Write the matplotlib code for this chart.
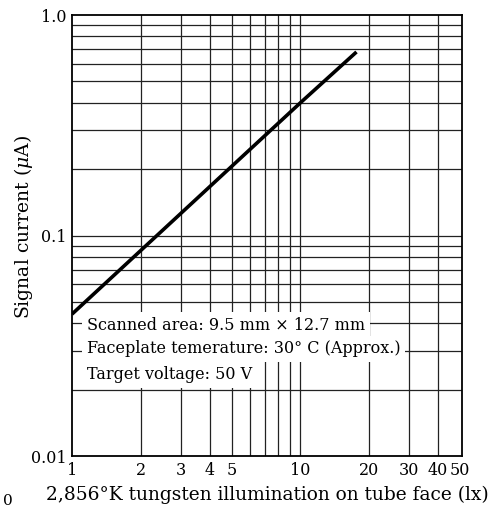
import matplotlib
matplotlib.use("Agg")
import matplotlib.pyplot as plt
from matplotlib.ticker import FixedLocator, NullFormatter, NullLocator

# characteristic curve
illum = [1.0, 10.0, 17.6]
signal = [0.044, 0.40, 0.68]

x_ticks = [1, 2, 3, 4, 5, 10, 20, 30, 40, 50]
x_tick_labels = ["1", "2", "3", "4", "5", "10", "20", "30", "40", "50"]
x_grid = [2, 3, 4, 5, 6, 7, 8, 9, 10, 20, 30, 40]
y_ticks = [0.01, 0.1, 1.0]
y_tick_labels = ["0.01", "0.1", "1.0"]
y_grid = [0.02, 0.03, 0.04, 0.05, 0.06, 0.07, 0.08, 0.09,
          0.2, 0.3, 0.4, 0.5, 0.6, 0.7, 0.8, 0.9]

notes = ["Scanned area: 9.5 mm \u00d7 12.7 mm",
         "Faceplate temerature: 30\u00b0 C (Approx.)",
         "Target voltage: 50 V"]

plt.rcParams["font.family"] = ["DejaVu Serif"]
plt.rcParams["mathtext.fontset"] = "dejavuserif"

fig = plt.figure(figsize=(5.02, 5.09), dpi=100)
ax = fig.add_axes([0.1434, 0.1041, 0.777, 0.8664])
ax.set_xscale("log")
ax.set_yscale("log")
ax.set_xlim(1, 51)
ax.set_ylim(0.01, 1.0)

# grid lines
for gx in x_grid:
    ax.axvline(gx, color="#222222", lw=0.9, zorder=1)
for gy in y_grid:
    ax.axhline(gy, color="#222222", lw=0.9, zorder=1)
ax.axhline(0.1, color="#222222", lw=0.9, zorder=1)

ax.plot(illum, signal, color="black", lw=2.6, solid_capstyle="butt", zorder=3)

ax.xaxis.set_major_locator(FixedLocator(x_ticks))
ax.xaxis.set_minor_locator(NullLocator())
ax.xaxis.set_minor_formatter(NullFormatter())
ax.set_xticklabels(x_tick_labels)
ax.yaxis.set_major_locator(FixedLocator(y_ticks))
ax.yaxis.set_minor_locator(NullLocator())
ax.yaxis.set_minor_formatter(NullFormatter())
ax.set_yticklabels(y_tick_labels)
ax.tick_params(length=0, labelsize=11.5, pad=4)

for s in ax.spines.values():
    s.set_linewidth(1.3)

ax.set_xlabel("2,856\u00b0K tungsten illumination on tube face (lx)", fontsize=13.4, labelpad=5)
ax.set_ylabel("Signal current ($\\mu$A)", fontsize=13.5)
ax.yaxis.set_label_coords(-0.095, 0.52)

note_y = [0.297, 0.243, 0.184]
for txt, ty in zip(notes, note_y):
    ax.text(0.038, ty, txt, transform=ax.transAxes, fontsize=11.5,
            va="center", ha="left", zorder=4,
            bbox=dict(facecolor="white", edgecolor="none", pad=3.5))

fig.text(0.005, 0.008, "0", fontsize=11)

fig.savefig("out.png", dpi=100)
